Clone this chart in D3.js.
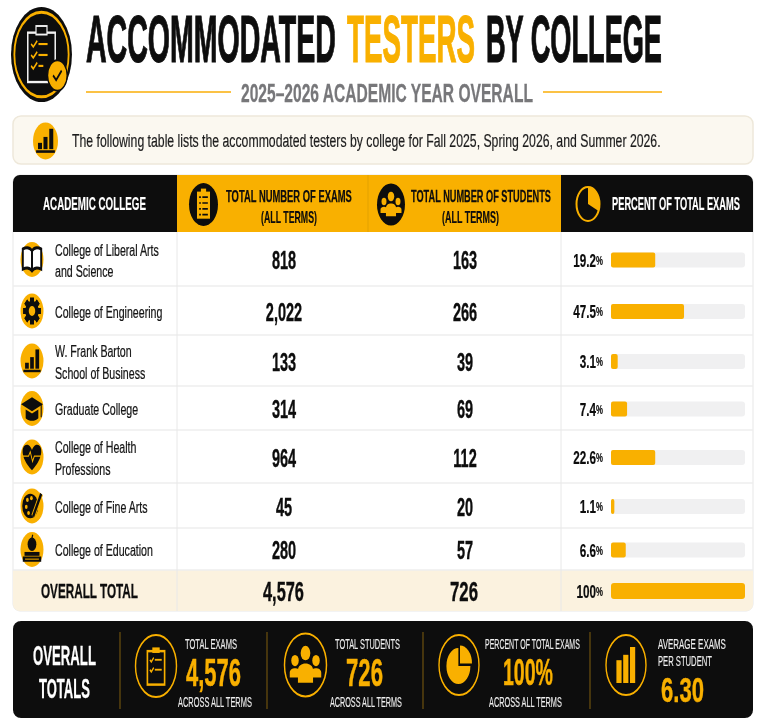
<!DOCTYPE html>
<html>
<head>
<meta charset="utf-8">
<script src="https://d3js.org/d3.v7.min.js"></script>
<style>
  html, body { margin: 0; padding: 0; background: #fff; }
  svg { display: block; }
  text { font-family: "Liberation Sans", sans-serif; }
</style>
</head>
<body>
<div id="chart"></div>
<script>
const collegeLines = [
  ["College of Liberal Arts", "and Science"],
  ["College of Engineering"],
  ["W. Frank Barton", "School of Business"],
  ["Graduate College"],
  ["College of Health", "Professions"],
  ["College of Fine Arts"],
  ["College of Education"]
];
const collegeIcons = ["book", "gear", "bars", "cap", "heart", "palette", "apple"];
const examCounts = ["818", "2,022", "133", "314", "964", "45", "280"];
const studentCounts = ["163", "266", "39", "69", "112", "20", "57"];
const percentLabels = ["19.2", "47.5", "3.1", "7.4", "22.6", "1.1", "6.6"];
// bar lengths as drawn in the picture, in percent of the track
const barLengths = [33, 54.5, 5, 12, 33, 2.5, 11];
const totalLabels = { exams: "4,576", students: "726", percent: "100", average: "6.30" };
const totalBar = 100;

const yellow = "#f9b000";
const black = "#0b0b0b";
const rowEdges = [232, 286, 335, 386, 430, 483, 528, 570, 611];

const svg = d3.select("#chart").append("svg").attr("width", 767).attr("height", 726);
svg.append("defs").append("filter").attr("id", "soft")
  .append("feGaussianBlur").attr("stdDeviation", 0.35);
const root = svg.append("g").attr("filter", "url(#soft)");

// text squeezed sideways: o.w is the wanted width in px, o.k a factor on the natural width
function txt(g, s, x, y, size, o = {}) {
  const fill = o.fill || black;
  const t = g.append("text")
    .attr("font-size", size)
    .attr("font-weight", o.weight || "bold")
    .attr("fill", fill)
    .attr("text-anchor", o.anchor || "start")
    .attr("dominant-baseline", "central")
    .text(s);
  if (o.suffix) t.append("tspan").attr("font-size", o.suffixSize).text(o.suffix);
  if (o.s) t.attr("stroke", fill).attr("stroke-width", o.s);
  const natural = t.node().getComputedTextLength();
  const k = o.w ? o.w / natural : o.k || 1;
  t.attr("transform", `translate(${x},${y}) scale(${k},1)`);
  return t;
}

const icons = {
  book(g, c) {
    g.append("path").attr("d", "M0,-5 C-2,-7 -5,-7 -8,-6 V5.5 C-5,4.5 -2,4.5 0,6.5 C2,4.5 5,4.5 8,5.5 V-6 C5,-7 2,-7 0,-5 V6.5")
      .attr("fill", "#fff").attr("stroke", c).attr("stroke-width", 1.7);
  },
  gear(g, c, bg) {
    d3.range(8).forEach((i) => {
      g.append("rect").attr("x", -1.7).attr("y", -7.6).attr("width", 3.4).attr("height", 15.2)
        .attr("fill", c).attr("transform", `rotate(${i * 45})`);
    });
    g.append("circle").attr("r", 5.8).attr("fill", c);
    g.append("circle").attr("r", 2.8).attr("fill", bg);
  },
  bars(g, c) {
    [[-6, 1, 3.4], [-1.6, -2.2, 6.6], [3, -6.6, 11]].forEach((b) => {
      g.append("rect").attr("x", b[0]).attr("y", b[1]).attr("width", 3.2).attr("height", b[2]).attr("fill", c);
    });
    g.append("rect").attr("x", -7.5).attr("y", 5).attr("width", 15).attr("height", 1.4).attr("fill", c);
  },
  cap(g, c) {
    g.append("path").attr("d", "M-9.5,-2.5 L0,-6.5 L9.5,-2.5 L0,1.5Z").attr("fill", c);
    g.append("path").attr("d", "M-5.5,0.5 V5.5 C-2,7.5 2,7.5 5.5,5.5 V0.5 L0,2.8Z").attr("fill", c);
    g.append("path").attr("d", "M8,-2 V5").attr("stroke", c).attr("stroke-width", 0.9);
  },
  heart(g, c, bg) {
    g.append("path").attr("d", "M0,7.5 C-11,0 -9,-7 -4.5,-7 C-2,-7 -1,-5.5 0,-4 C1,-5.5 2,-7 4.5,-7 C9,-7 11,0 0,7.5Z").attr("fill", c);
    g.append("path").attr("d", "M-8,-0.5 H-3 L-1.5,-3 L0.5,2.5 L2,-0.5 H8").attr("fill", "none").attr("stroke", bg).attr("stroke-width", 0.8);
  },
  palette(g, c, bg) {
    g.append("ellipse").attr("cx", -1.5).attr("rx", 7).attr("ry", 7).attr("fill", c);
    [[-4, -3.5], [-0.5, -4.5], [-5, 0.5], [-3, 4]].forEach((p) => {
      g.append("circle").attr("cx", p[0]).attr("cy", p[1]).attr("r", 1.2).attr("fill", bg);
    });
    g.append("path").attr("d", "M8,-7 L1,6").attr("stroke", bg).attr("stroke-width", 3.4);
    g.append("path").attr("d", "M8,-7 L1,6").attr("stroke", c).attr("stroke-width", 2);
  },
  apple(g, c, bg) {
    g.append("circle").attr("cy", -3).attr("r", 3.8).attr("fill", c);
    g.append("path").attr("d", "M0,-6.4 L0.6,-8.4").attr("stroke", c).attr("stroke-width", 1);
    g.append("rect").attr("x", -6.5).attr("y", 1.4).attr("width", 13).attr("height", 2.2).attr("fill", c);
    g.append("rect").attr("x", -8).attr("y", 4).attr("width", 16).attr("height", 3).attr("fill", c);
    g.append("path").attr("d", "M-6,5.5 H6").attr("stroke", bg).attr("stroke-width", 0.6);
  },
  clipFilled(g, c, bg) {
    g.append("rect").attr("x", -4.5).attr("y", -6).attr("width", 9).attr("height", 12.6).attr("fill", c);
    g.append("rect").attr("x", -1.8).attr("y", -7.4).attr("width", 3.6).attr("height", 2).attr("fill", c);
    d3.range(4).forEach((i) => {
      const y = -3.4 + i * 2.7;
      g.append("path").attr("d", `M-3,${y} h1.2 M-0.8,${y} H3`).attr("stroke", bg).attr("stroke-width", 0.8);
    });
  },
  clipRing(g, c) {
    g.append("rect").attr("x", -4.2).attr("y", -4.8).attr("width", 8.4).attr("height", 10.8)
      .attr("fill", "none").attr("stroke", c).attr("stroke-width", 0.8);
    g.append("rect").attr("x", -1.8).attr("y", -6).attr("width", 3.6).attr("height", 1.8).attr("fill", c);
    [-2, 1.2].forEach((y) => {
      g.append("path").attr("d", `M-3,${y} l0.7,0.7 l1.2,-1.4`).attr("fill", "none").attr("stroke", c).attr("stroke-width", 0.6);
      g.append("path").attr("d", `M-0.6,${y} H2.8`).attr("stroke", c).attr("stroke-width", 0.6);
    });
  },
  people(g, c) {
    [[-5, -1.4, 0.85], [5, -1.4, 0.85], [0, -3.8, 1.1]].forEach((p) => {
      g.append("circle").attr("cx", p[0]).attr("cy", p[1]).attr("r", 2.1 * p[2]).attr("fill", c);
    });
    g.append("path").attr("d", "M-7.5,4 V2.4 C-7.5,0.6 -2.5,0.6 -2.5,2.4 V4Z M7.5,4 V2.4 C7.5,0.6 2.5,0.6 2.5,2.4 V4Z").attr("fill", c);
    g.append("path").attr("d", "M-3.6,5.6 V1.6 C-3.6,-1.2 3.6,-1.2 3.6,1.6 V5.6Z").attr("fill", c);
  },
  pie(g, c) {
    g.append("path").attr("d", d3.arc()({ innerRadius: 0, outerRadius: 6, startAngle: 0, endAngle: Math.PI * 0.5 }))
      .attr("transform", "translate(0.5,-0.5)").attr("fill", c);
    g.append("path").attr("d", d3.arc()({ innerRadius: 0, outerRadius: 6, startAngle: Math.PI * 0.5, endAngle: Math.PI * 2 }))
      .attr("transform", "translate(-0.3,0.3)").attr("fill", c);
  },
  chartUp(g, c) {
    [[-4.8, -1.6, 7.6], [-1.4, -3.4, 9.4], [2, -6, 12]].forEach((b) => {
      g.append("rect").attr("x", b[0]).attr("y", b[1]).attr("width", 2.6).attr("height", b[2]).attr("fill", c);
    });
  }
};

// disc or ring holding an icon, drawn in a -10..10 box and stretched like the picture
function badge(cx, cy, rx, ry, name, c, bg, ring) {
  const g = root.append("g").attr("transform", `translate(${cx},${cy}) scale(${rx / 10},${ry / 10})`);
  g.append("circle").attr("r", 10).attr("fill", ring ? black : bg)
    .attr("stroke", ring ? yellow : "none").attr("stroke-width", ring ? 0.7 : 0);
  icons[name](g, c, bg);
  return g;
}

// title
txt(root, "ACCOMMODATED", 86, 39, 66, { w: 250, s: 1.2 });
txt(root, "TESTERS", 347, 39, 66, { w: 128, fill: yellow, s: 1.2 });
txt(root, "BY COLLEGE", 486, 39, 66, { w: 176, s: 1.2 });
txt(root, "2025–2026 ACADEMIC YEAR OVERALL", 241, 93, 25, { w: 292, fill: "#77777a", s: 0.3 });
[[86, 231], [543, 662]].forEach((d) => {
  root.append("line").attr("x1", d[0]).attr("x2", d[1]).attr("y1", 92).attr("y2", 92)
    .attr("stroke", "#fbc245").attr("stroke-width", 2);
});

// logo
const logo = root.append("g").attr("transform", "translate(41.5,54.5) scale(3.05,4.75)");
logo.append("circle").attr("r", 10).attr("fill", black);
logo.append("circle").attr("r", 8.9).attr("fill", "none").attr("stroke", yellow).attr("stroke-width", 0.6);
logo.append("rect").attr("x", -4.5).attr("y", -4.6).attr("width", 9).attr("height", 10.4).attr("fill", black)
  .attr("stroke", "#f2f2f2").attr("stroke-width", 0.5);
logo.append("rect").attr("x", -1.8).attr("y", -6).attr("width", 3.6).attr("height", 1.8).attr("fill", black)
  .attr("stroke", "#f2f2f2").attr("stroke-width", 0.4);
d3.range(3).forEach((i) => {
  const y = -2.2 + i * 2.3;
  logo.append("path").attr("d", `M-3.4,${y} l0.7,0.6 l1.3,-1.3`).attr("fill", "none").attr("stroke", yellow).attr("stroke-width", 0.45);
  logo.append("path").attr("d", `M-1,${y} H${i === 2 ? 0.6 : 2}`).attr("stroke", yellow).attr("stroke-width", 0.45);
});
logo.append("circle").attr("cx", 5.2).attr("cy", 4.4).attr("r", 3.2).attr("fill", yellow).attr("stroke", black).attr("stroke-width", 0.4);
logo.append("path").attr("d", "M3.8,4.4 l1,1 l1.8,-2").attr("fill", "none").attr("stroke", black).attr("stroke-width", 0.5);

// banner
root.append("rect").attr("x", 13).attr("y", 116).attr("width", 740).attr("height", 48).attr("rx", 8)
  .attr("fill", "#fbf8f0").attr("stroke", "#eee8da").attr("stroke-width", 1.5);
badge(45.5, 141, 12.5, 18.5, "bars", black, yellow);
txt(root, "The following table lists the accommodated testers by college for Fall 2025, Spring 2026, and Summer 2026.",
  72, 141, 18, { weight: "normal", w: 589, fill: "#1c1c1c", s: 0.2 });

// table frame and total row
const table = root.append("g");
table.append("rect").attr("x", 13).attr("y", 175).attr("width", 740).attr("height", 436).attr("rx", 7)
  .attr("fill", "#fff").attr("stroke", "#e7e7e7").attr("stroke-width", 1);
table.append("path")
  .attr("d", "M13,570 H753 V604 a7,7 0 0 1 -7,7 H20 a7,7 0 0 1 -7,-7 Z")
  .attr("fill", "#fbf2df");

// header cells
table.append("path").attr("d", "M177,175 H20 a7,7 0 0 0 -7,7 V232 H177 Z").attr("fill", black);
table.append("rect").attr("x", 177).attr("y", 175).attr("width", 384).attr("height", 57).attr("fill", yellow);
table.append("path").attr("d", "M561,175 H746 a7,7 0 0 1 7,7 V232 H561 Z").attr("fill", black);
table.append("line").attr("x1", 368).attr("x2", 368).attr("y1", 175).attr("y2", 232).attr("stroke", "#e3a200");

txt(root, "ACADEMIC COLLEGE", 43, 204, 18, { w: 103, fill: "#fff", s: 0.2 });
txt(root, "TOTAL NUMBER OF EXAMS", 226, 196, 17, { w: 126, s: 0.25 });
txt(root, "(ALL TERMS)", 261, 217, 16, { w: 56, s: 0.15 });
txt(root, "TOTAL NUMBER OF STUDENTS", 411, 196, 17, { w: 140, s: 0.25 });
txt(root, "(ALL TERMS)", 442, 217, 16, { w: 57, s: 0.15 });
txt(root, "PERCENT OF TOTAL EXAMS", 612, 204, 18, { w: 128, fill: "#fff", s: 0.2 });

badge(203.5, 204.5, 14.5, 21.5, "clipFilled", yellow, black);
badge(391, 204.5, 14, 21, "people", yellow, black);
const hPie = root.append("g").attr("transform", "translate(588,204)");
hPie.append("ellipse").attr("rx", 11.5).attr("ry", 17).attr("fill", "none").attr("stroke", yellow).attr("stroke-width", 2);
hPie.append("path").attr("d", "M0,-17 A11.5,17 0 0 1 10.5,7 L0,0 Z").attr("fill", yellow);

// rows
const rows = d3.range(collegeLines.length);
const rowMid = (i) => (rowEdges[i] + rowEdges[i + 1]) / 2;
const barX = d3.scaleLinear().domain([0, 100]).range([0, 134]);

rowEdges.slice(1, -1).forEach((y) => {
  table.append("line").attr("x1", 13).attr("x2", 753).attr("y1", y).attr("y2", y)
    .attr("stroke", "#eeeeee").attr("stroke-width", 1.5);
});
[177, 561].forEach((x) => {
  table.append("line").attr("x1", x).attr("x2", x).attr("y1", 232).attr("y2", 611).attr("stroke", "#e8e8e8");
});

rows.forEach((i) => {
  const y = rowMid(i);
  badge(32, y + 0.5, 11.5, 17.5, collegeIcons[i], black, yellow);
  const lines = collegeLines[i];
  lines.forEach((s, j) => {
    txt(root, s, 55, y + 1.5 + (j - (lines.length - 1) / 2) * 21.5, 17, { weight: "normal", k: 0.625, fill: "#141414", s: 0.25 });
  });
  txt(root, examCounts[i], 284, y + 1.5, 25, { anchor: "middle", k: 0.58, s: 0.4 });
  txt(root, studentCounts[i], 465, y + 1.5, 25, { anchor: "middle", k: 0.58, s: 0.4 });
  txt(root, percentLabels[i], 603, y + 1, 18, { anchor: "end", k: 0.65, s: 0.2, suffix: "%", suffixSize: 12 });
  root.append("rect").attr("x", 611).attr("y", y - 6.5).attr("width", barX(100)).attr("height", 15).attr("rx", 3).attr("fill", "#f0f0f1");
  root.append("rect").attr("x", 611).attr("y", y - 6.5).attr("width", barX(barLengths[i])).attr("height", 15).attr("rx", 2).attr("fill", yellow);
});

// total row
txt(root, "OVERALL TOTAL", 41, 591, 21, { w: 97, s: 0.3 });
txt(root, totalLabels.exams, 283.5, 591, 28, { anchor: "middle", w: 41, s: 0.4 });
txt(root, totalLabels.students, 464, 591, 28, { anchor: "middle", w: 28, s: 0.4 });
txt(root, totalLabels.percent, 603, 591, 18, { anchor: "end", k: 0.65, s: 0.2, suffix: "%", suffixSize: 12 });
root.append("rect").attr("x", 611).attr("y", 583).attr("width", barX(totalBar)).attr("height", 16).attr("rx", 3).attr("fill", yellow);

// bottom panel
root.append("rect").attr("x", 13).attr("y", 621).attr("width", 740).attr("height", 97).attr("rx", 8).attr("fill", black);
txt(root, "OVERALL", 33, 656, 27, { w: 63, fill: "#fff", s: 0.3 });
txt(root, "TOTALS", 39, 688, 27, { w: 51, fill: "#fff", s: 0.3 });
[120, 267, 423, 590].forEach((x) => {
  root.append("line").attr("x1", x).attr("x2", x).attr("y1", 632).attr("y2", 709)
    .attr("stroke", "#6e5312").attr("stroke-width", 1.2);
});

const across = "ACROSS ALL TERMS";
const soft = { weight: "normal", fill: "#eee", s: 0.15 };
badge(156, 666, 20.5, 31, "clipRing", yellow, black, true);
txt(root, "TOTAL EXAMS", 185, 644, 14, { ...soft, w: 52 });
txt(root, totalLabels.exams, 186, 673, 38, { w: 55, fill: yellow, s: 0.5 });
txt(root, across, 178, 702, 14, { ...soft, w: 74 });

badge(305.5, 665, 21, 31.5, "people", yellow, black, true);
txt(root, "TOTAL STUDENTS", 335, 644, 14, { ...soft, w: 65 });
txt(root, totalLabels.students, 346, 673, 38, { w: 37, fill: yellow, s: 0.5 });
txt(root, across, 330, 702, 14, { ...soft, w: 72 });

badge(459, 665, 20, 30, "pie", yellow, black, true);
txt(root, "PERCENT OF TOTAL EXAMS", 485, 644, 14, { ...soft, w: 95 });
txt(root, totalLabels.percent + "%", 503, 673, 36, { w: 50, fill: yellow, s: 0.5 });
txt(root, across, 489, 702, 14, { ...soft, w: 73 });

badge(626, 665, 20, 30, "chartUp", yellow, black, true);
txt(root, "AVERAGE EXAMS", 658, 644, 14, { ...soft, w: 68 });
txt(root, "PER STUDENT", 658, 661, 14, { ...soft, w: 54 });
txt(root, totalLabels.average, 661, 689, 36, { w: 43, fill: yellow, s: 0.5 });
</script>
</body>
</html>
